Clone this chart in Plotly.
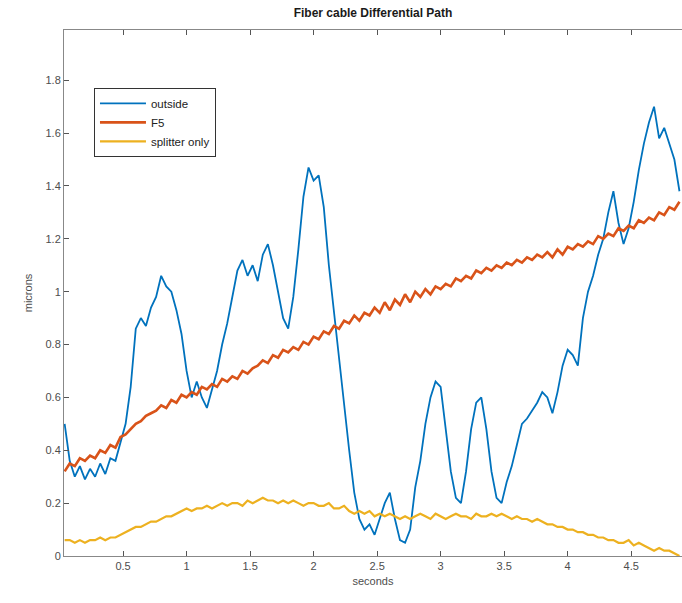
import plotly.graph_objects as go

t = [round(0.04 * i, 2) for i in range(1, 123)]

outside = [0.50, 0.36, 0.30, 0.34, 0.29, 0.33, 0.30, 0.35, 0.31, 0.37, 0.36, 0.43,
           0.50, 0.64, 0.86, 0.90, 0.87, 0.94, 0.98, 1.06, 1.02, 1.00, 0.93, 0.84,
           0.70, 0.60, 0.66, 0.60, 0.56, 0.63, 0.70, 0.80, 0.88, 0.98, 1.08, 1.12,
           1.06, 1.10, 1.04, 1.14, 1.18, 1.10, 1.00, 0.90, 0.86, 0.98, 1.16, 1.36,
           1.47, 1.42, 1.44, 1.32, 1.10, 0.92, 0.74, 0.56, 0.40, 0.24, 0.14, 0.10,
           0.12, 0.08, 0.14, 0.20, 0.24, 0.14, 0.06, 0.05, 0.10, 0.26, 0.36, 0.50,
           0.60, 0.66, 0.64, 0.48, 0.32, 0.22, 0.20, 0.32, 0.48, 0.58, 0.60, 0.48,
           0.32, 0.22, 0.20, 0.28, 0.34, 0.42, 0.50, 0.52, 0.55, 0.58, 0.62, 0.60,
           0.54, 0.62, 0.72, 0.78, 0.76, 0.72, 0.90, 1.00, 1.06, 1.14, 1.20, 1.30,
           1.38, 1.26, 1.18, 1.24, 1.34, 1.46, 1.56, 1.64, 1.70, 1.58, 1.62, 1.56,
           1.50, 1.38]

f5 = [0.32, 0.35, 0.34, 0.37, 0.36, 0.38, 0.37, 0.40, 0.39, 0.42, 0.41, 0.45,
      0.46, 0.48, 0.50, 0.51, 0.53, 0.54, 0.55, 0.57, 0.56, 0.59, 0.58, 0.61,
      0.60, 0.62, 0.61, 0.64, 0.63, 0.65, 0.64, 0.67, 0.66, 0.68, 0.67, 0.70,
      0.69, 0.71, 0.72, 0.74, 0.73, 0.76, 0.75, 0.78, 0.77, 0.79, 0.78, 0.81,
      0.80, 0.83, 0.82, 0.85, 0.84, 0.87, 0.86, 0.89, 0.88, 0.91, 0.89, 0.92,
      0.91, 0.94, 0.92, 0.96, 0.93, 0.97, 0.95, 0.99, 0.96, 1.00, 0.98, 1.01,
      0.99, 1.02, 1.01, 1.03, 1.02, 1.05, 1.04, 1.06, 1.05, 1.08, 1.07, 1.09,
      1.08, 1.10, 1.09, 1.11, 1.10, 1.12, 1.11, 1.13, 1.12, 1.14, 1.13, 1.15,
      1.13, 1.16, 1.14, 1.17, 1.16, 1.18, 1.17, 1.19, 1.18, 1.21, 1.20, 1.22,
      1.21, 1.24, 1.23, 1.25, 1.24, 1.27, 1.26, 1.28, 1.27, 1.30, 1.29, 1.32,
      1.31, 1.34]

splitter = [0.06, 0.06, 0.05, 0.06, 0.05, 0.06, 0.06, 0.07, 0.06, 0.07, 0.07, 0.08,
            0.09, 0.10, 0.11, 0.11, 0.12, 0.13, 0.13, 0.14, 0.15, 0.15, 0.16, 0.17,
            0.18, 0.17, 0.18, 0.18, 0.19, 0.18, 0.19, 0.20, 0.19, 0.20, 0.20, 0.19,
            0.21, 0.20, 0.21, 0.22, 0.21, 0.21, 0.20, 0.21, 0.20, 0.21, 0.20, 0.19,
            0.20, 0.20, 0.19, 0.19, 0.20, 0.18, 0.18, 0.19, 0.17, 0.16, 0.17, 0.16,
            0.17, 0.15, 0.16, 0.15, 0.16, 0.15, 0.14, 0.15, 0.14, 0.15, 0.16, 0.15,
            0.14, 0.16, 0.15, 0.14, 0.15, 0.16, 0.15, 0.15, 0.14, 0.16, 0.15, 0.15,
            0.16, 0.15, 0.16, 0.15, 0.14, 0.15, 0.14, 0.14, 0.13, 0.14, 0.13, 0.12,
            0.12, 0.11, 0.11, 0.10, 0.10, 0.09, 0.09, 0.08, 0.08, 0.07, 0.07, 0.06,
            0.06, 0.05, 0.05, 0.06, 0.04, 0.05, 0.04, 0.03, 0.02, 0.03, 0.02, 0.02,
            0.01, 0.00]

x_ticks = [0.5, 1, 1.5, 2, 2.5, 3, 3.5, 4, 4.5]
x_labels = ["0.5", "1", "1.5", "2", "2.5", "3", "3.5", "4", "4.5"]
y_ticks = [0, 0.2, 0.4, 0.6, 0.8, 1.0, 1.2, 1.4, 1.6, 1.8]
y_labels = ["0", "0.2", "0.4", "0.6", "0.8", "1", "1.2", "1.4", "1.6", "1.8"]

fig = go.Figure()
fig.add_trace(go.Scatter(x=t, y=outside, mode="lines", name="outside",
                         line=dict(color="#0072BD", width=1.8)))
fig.add_trace(go.Scatter(x=t, y=f5, mode="lines", name="F5",
                         line=dict(color="#D95319", width=2.6)))
fig.add_trace(go.Scatter(x=t, y=splitter, mode="lines", name="splitter only",
                         line=dict(color="#EDB120", width=2.2)))

axis_font = dict(family="Liberation Sans, Arial", size=11, color="#4d4d4d")
fig.update_layout(
    width=682, height=603,
    margin=dict(l=64, r=0, t=30, b=47),
    paper_bgcolor="white", plot_bgcolor="white",
    title=dict(text="<b>Fiber cable Differential Path</b>", x=(64 + 682) / 2 / 682,
               xanchor="center", y=1 - 13 / 603, yanchor="middle",
               font=dict(family="Liberation Sans, Arial", size=12, color="#1a1a1a")),
    legend=dict(x=0.0485, y=0.89, xanchor="left", yanchor="top",
                bordercolor="#333333", borderwidth=1, bgcolor="white",
                font=dict(family="Liberation Sans, Arial", size=11.5, color="#222222"),
                tracegroupgap=0, itemwidth=46),
    showlegend=True,
)
fig.update_xaxes(range=[0.035, 4.9], tickvals=x_ticks, ticktext=x_labels,
                 ticks="inside", ticklen=5, tickcolor="#555555",
                 showline=True, linecolor="#888888", linewidth=1, mirror="ticks",
                 showgrid=False, zeroline=False, tickfont=axis_font,
                 title=dict(text="seconds", font=axis_font, standoff=6))
fig.update_yaxes(range=[0, 1.99], tickvals=y_ticks, ticktext=y_labels,
                 ticks="inside", ticklen=5, tickcolor="#555555",
                 showline=True, linecolor="#888888", linewidth=1, mirror=False,
                 showgrid=False, zeroline=False, tickfont=axis_font,
                 title=dict(text="microns", font=axis_font, standoff=10))

fig.write_html("out.html")
